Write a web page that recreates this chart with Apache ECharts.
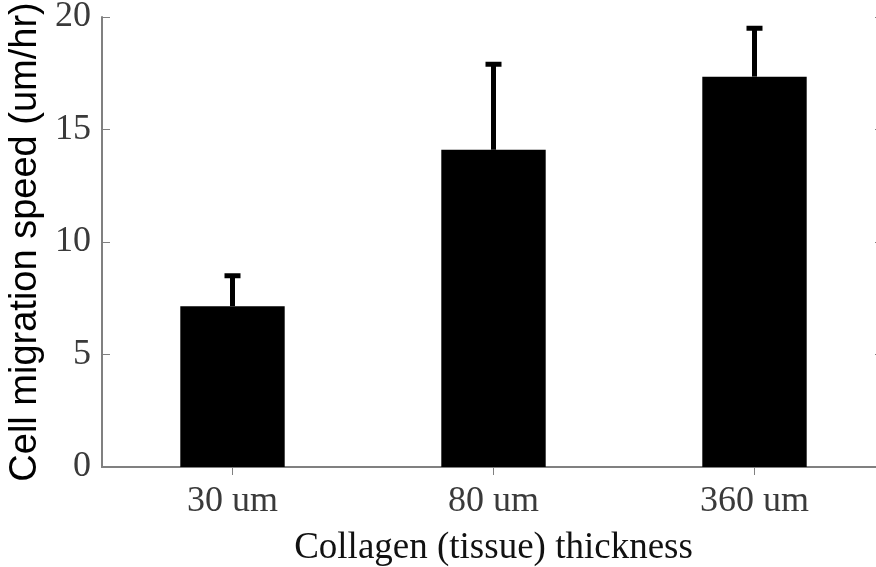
<!DOCTYPE html>
<html>
<head>
<meta charset="utf-8">
<script src="https://cdn.jsdelivr.net/npm/echarts@6/dist/echarts.min.js"></script>
<style>
html,body{margin:0;padding:0;background:#fff;}
#chart{width:876px;height:567px;}
</style>
</head>
<body>
<div id="chart"></div>
<script>
var categories = ['30 um', '80 um', '360 um'];
var speeds = [7.15, 14.1, 17.35];
var errors = [1.35, 3.8, 2.15];
var yTicks = [0, 5, 10, 15, 20];

var chart = echarts.init(document.getElementById('chart'), null, {renderer: 'canvas'});
var axisGray = '#808080';
var serif = '"Liberation Serif", "Times New Roman", serif';

var errData = categories.map(function (c, i) { return [i, speeds[i], speeds[i] + errors[i]]; });

chart.setOption({
  animation: false,
  backgroundColor: '#ffffff',
  grid: {left: 102, top: 17, width: 783, height: 450, containLabel: false, outerBoundsMode: 'none'},
  xAxis: [{
    type: 'category',
    data: categories,
    position: 'bottom',
    boundaryGap: true,
    name: 'Collagen (tissue) thickness',
    nameLocation: 'middle',
    nameGap: 63,
    nameTextStyle: {fontFamily: serif, fontSize: 37, color: '#111'},
    axisLine: {show: true, lineStyle: {color: axisGray, width: 2}},
    axisTick: {show: true, inside: true, alignWithLabel: true, length: 8, lineStyle: {color: axisGray, width: 1}},
    axisLabel: {fontFamily: serif, fontSize: 36, color: '#3a3a3a', margin: 17},
    splitLine: {show: false}
  }, {
    type: 'category',
    data: categories,
    position: 'top',
    boundaryGap: true,
    axisLine: {show: true, lineStyle: {color: axisGray, width: 2}},
    axisTick: {show: true, inside: true, alignWithLabel: true, length: 8, lineStyle: {color: axisGray, width: 1}},
    axisLabel: {show: false},
    splitLine: {show: false}
  }],
  yAxis: [{
    type: 'value',
    min: yTicks[0],
    max: yTicks[yTicks.length - 1],
    interval: 5,
    position: 'left',
    name: 'Cell migration speed (um/hr)',
    nameLocation: 'middle',
    nameGap: 46,
    nameTextStyle: {fontFamily: '"Liberation Sans", Arial, sans-serif', fontSize: 38, color: '#000'},
    axisLine: {show: true, lineStyle: {color: axisGray, width: 2}},
    axisTick: {show: true, inside: true, length: 8, lineStyle: {color: axisGray, width: 1}},
    axisLabel: {fontFamily: serif, fontSize: 36, color: '#3a3a3a', margin: 11},
    splitLine: {show: false}
  }, {
    type: 'value',
    min: yTicks[0],
    max: yTicks[yTicks.length - 1],
    interval: 5,
    position: 'right',
    axisLine: {show: true, lineStyle: {color: axisGray, width: 2}},
    axisTick: {show: true, inside: true, length: 10, lineStyle: {color: axisGray, width: 1}},
    axisLabel: {show: false},
    splitLine: {show: false}
  }],
  series: [{
    type: 'bar',
    data: speeds,
    barWidth: '40%',
    itemStyle: {color: '#000'},
    xAxisIndex: 0,
    yAxisIndex: 0,
    z: 2
  }, {
    type: 'custom',
    data: errData,
    xAxisIndex: 0,
    yAxisIndex: 0,
    z: 3,
    renderItem: function (params, api) {
      var x = api.value(0);
      var lo = api.coord([x, api.value(1)]);
      var hi = api.coord([x, api.value(2)]);
      var capHalf = 8;
      return {
        type: 'group',
        children: [{
          type: 'line',
          shape: {x1: lo[0], y1: lo[1], x2: hi[0], y2: hi[1]},
          style: {stroke: '#000', lineWidth: 5}
        }, {
          type: 'line',
          shape: {x1: hi[0] - capHalf, y1: hi[1], x2: hi[0] + capHalf, y2: hi[1]},
          style: {stroke: '#000', lineWidth: 5}
        }]
      };
    }
  }]
});
</script>
</body>
</html>
